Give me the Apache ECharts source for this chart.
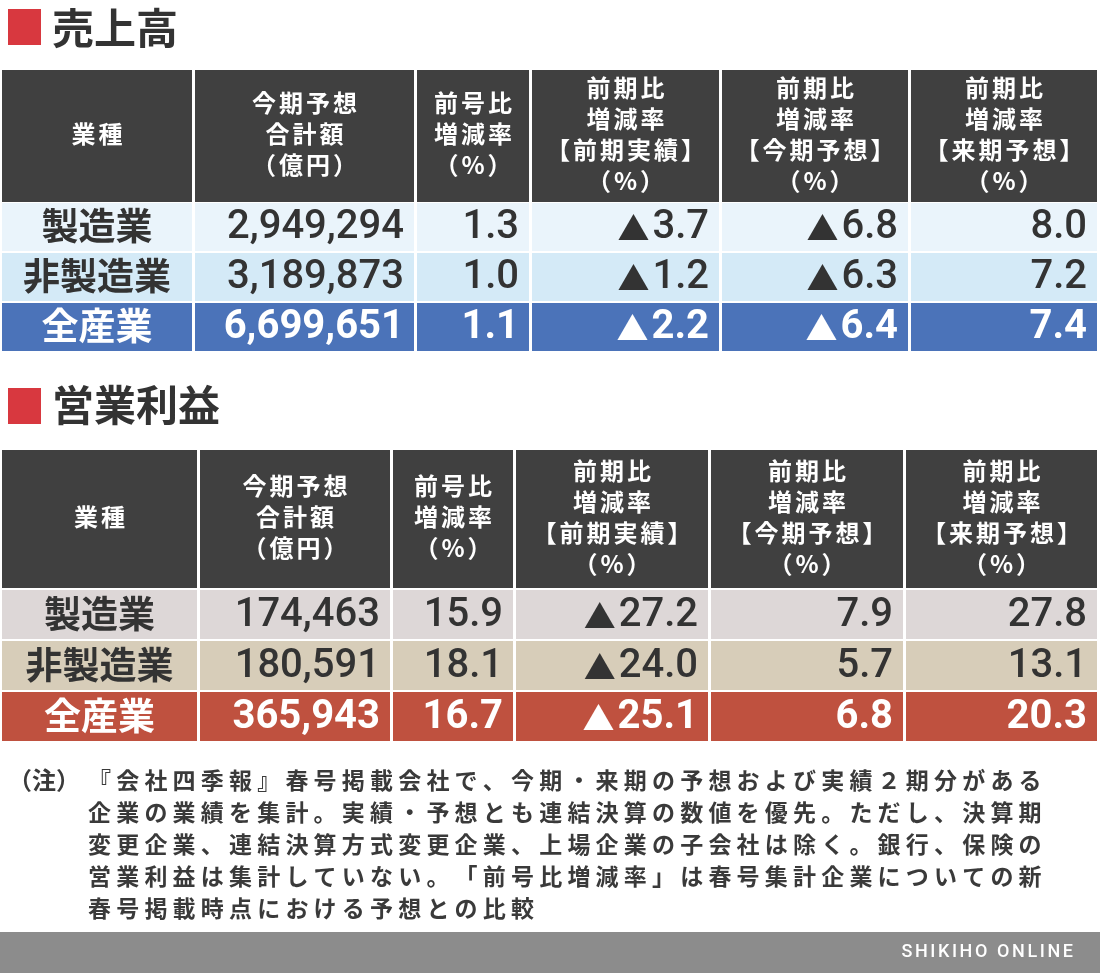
<!DOCTYPE html>
<html>
<head>
<meta charset="utf-8">
<script src="https://cdn.jsdelivr.net/npm/echarts@6/dist/echarts.min.js"></script>
<style>
html,body{margin:0;padding:0;background:#fff;}
#container{width:1100px;height:973px;}
</style>
</head>
<body>
<div id="container"></div>
<script>
// 業種
var sectors = ['製造業', '非製造業', '全産業'];
// 売上高
var salesTotal = [2949294, 3189873, 6699651];
var salesVsPrevIssue = [1.3, 1.0, 1.1];
var salesPrevActual = [-3.7, -1.2, -2.2];
var salesCurForecast = [-6.8, -6.3, -6.4];
var salesNextForecast = [8.0, 7.2, 7.4];
// 営業利益
var profitTotal = [174463, 180591, 365943];
var profitVsPrevIssue = [15.9, 18.1, 16.7];
var profitPrevActual = [-27.2, -24.0, -25.1];
var profitCurForecast = [7.9, 5.7, 6.8];
var profitNextForecast = [27.8, 13.1, 20.3];
// 見出し
var headers = [
	['業種'],
	['今期予想', '合計額', '（億円）'],
	['前号比', '増減率', '（%）'],
	['前期比', '増減率', '【前期実績】', '（%）'],
	['前期比', '増減率', '【今期予想】', '（%）'],
	['前期比', '増減率', '【来期予想】', '（%）']
];
var notes = [
	'『会社四季報』春号掲載会社で、今期・来期の予想および実績２期分がある',
	'企業の業績を集計。実績・予想とも連結決算の数値を優先。ただし、決算期',
	'変更企業、連結決算方式変更企業、上場企業の子会社は除く。銀行、保険の',
	'営業利益は集計していない。「前号比増減率」は春号集計企業についての新',
	'春号掲載時点における予想との比較'
];

function fmtRate(v){
	return v < 0 ? '{t|▲}' + Math.abs(v).toFixed(1) : v.toFixed(1);
}
function buildCells(totals, c1, c2, c3, c4){
	return sectors.map(function(s, i){
		return [s, totals[i].toLocaleString('en-US'), fmtRate(c1[i]), fmtRate(c2[i]), fmtRate(c3[i]), fmtRate(c4[i])];
	});
}
var salesCells = buildCells(salesTotal, salesVsPrevIssue, salesPrevActual, salesCurForecast, salesNextForecast);
var profitCells = buildCells(profitTotal, profitVsPrevIssue, profitPrevActual, profitCurForecast, profitNextForecast);

// レイアウト
var tables = [
	{
		title: '売上高', titleY: 28, sqY: 9,
		headTop: 70, headBottom: 202, bodyTop: 202, bandH: 50,
		cols: [[2,192],[195,414],[417,529],[532,719],[722,908],[911,1097]],
		rowColors: ['#eaf4fb', '#d4eaf7', '#4b73b9'],
		cells: salesCells
	},
	{
		title: '営業利益', titleY: 405, sqY: 388,
		headTop: 450, headBottom: 588, bodyTop: 589, bandH: 51,
		cols: [[2,197],[200,390],[393,513],[516,708],[711,903],[906,1097]],
		rowColors: ['#ddd7d7', '#d7cdb9', '#bf513f'],
		cells: profitCells
	}
];

var CJK = '"Noto Sans CJK JP", sans-serif';
var NUM = 'Roboto, "Noto Sans CJK JP", sans-serif';
var measureCtx = document.createElement('canvas').getContext('2d');

// 文字ごとに間隔をあけて並べる
function spacedText(str, cx, y, size, gap, weight, color, align, family){
	family = family || CJK;
	var font = weight + ' ' + size + 'px ' + family;
	measureCtx.font = font;
	var w = [];
	var total = 0;
	for (var i = 0; i < str.length; i++) {
		var a = (str.charCodeAt(i) < 128 ? measureCtx.measureText(str[i]).width : size) + gap;
		w.push(a); total += a;
	}
	total -= gap;
	var x = align === 'left' ? cx : align === 'right' ? cx - total : cx - total / 2;
	var out = [];
	for (var j = 0; j < str.length; j++) {
		out.push({
			type: 'text', x: x + (w[j] - gap) / 2, y: y, silent: true,
			style: {text: str[j], fill: color, font: font,
				textAlign: 'center', textVerticalAlign: 'middle'}
		});
		x += w[j];
	}
	return out;
}

var graphics = [];
tables.forEach(function(t){
	graphics.push({type: 'rect', shape: {x: 8, y: t.sqY, width: 33, height: 36}, style: {fill: '#d8383f'}});
	graphics.push({type: 'text', x: 52, y: t.titleY, style: {text: t.title, fill: '#333',
		font: 'bold 42px ' + CJK, textAlign: 'left', textVerticalAlign: 'middle'}});
	var mid = (t.headTop + t.headBottom) / 2 - 2;
	t.cols.forEach(function(c, ci){
		graphics.push({type: 'rect', shape: {x: c[0], y: t.headTop, width: c[1] - c[0], height: t.headBottom - t.headTop},
			style: {fill: '#404040'}});
		var lines = headers[ci];
		var lh = 31;
		lines.forEach(function(l, li){
			var y = mid + (li - (lines.length - 1) / 2) * lh;
			graphics = graphics.concat(spacedText(l, (c[0] + c[1]) / 2, y, 24, 3, 'bold', '#fff'));
		});
	});
});

// 注記
graphics = graphics.concat(spacedText('（注）', 8, 780, 24, 0, 'bold', '#3a3a3a', 'left'));
notes.forEach(function(l, i){
	graphics = graphics.concat(spacedText(l, 88, 780 + i * 32, 23, 5.2, 'bold', '#3a3a3a', 'left'));
});
// フッター
graphics.push({type: 'rect', shape: {x: 0, y: 932, width: 1100, height: 41}, style: {fill: '#8c8c8c'}});
graphics = graphics.concat(spacedText('SHIKIHO ONLINE', 1073, 952, 18, 2.6, '500', '#fff', 'right', 'Roboto, sans-serif'));

var grids = [], xAxes = [], yAxes = [], series = [];
tables.forEach(function(t, ti){
	grids.push({left: 0, top: t.bodyTop, width: 1100, height: t.bandH * sectors.length});
	xAxes.push({type: 'value', gridIndex: ti, min: 0, max: 1100, show: false});
	yAxes.push({type: 'category', gridIndex: ti, data: sectors, inverse: true, show: false});
	var data = [];
	sectors.forEach(function(s, r){
		t.cols.forEach(function(c, ci){ data.push([ci, r]); });
	});
	series.push({
		type: 'custom',
		xAxisIndex: ti, yAxisIndex: ti,
		silent: true,
		data: data,
		renderItem: function(params, api){
			var ci = api.value(0), r = api.value(1);
			var col = t.cols[ci];
			var p0 = api.coord([col[0], r]);
			var p1 = api.coord([col[1], r]);
			var band = api.size([0, 1])[1];
			var top = p0[1] - band / 2;
			var isTotal = r === sectors.length - 1;
			var color = isTotal ? '#fff' : '#333';
			var text = t.cells[r][ci];
			var txt;
			if (ci === 0) {
				txt = {type: 'text', style: {text: text, x: (p0[0] + p1[0]) / 2, y: top + band / 2 - 1,
					fill: color, fontSize: 37, fontWeight: 'bold', fontFamily: CJK,
					textAlign: 'center', textVerticalAlign: 'middle'}};
			} else {
				txt = {type: 'text', style: {text: text, x: p1[0] - 10, y: top + band / 2 + 1,
					fill: color, fontSize: 40, fontWeight: isTotal ? 'bold' : '500', fontFamily: NUM,
					textAlign: 'right', textVerticalAlign: 'middle',
					rich: {t: {fontSize: 32, fontFamily: CJK, fill: color, padding: [0, 3, 0, 0]}}}};
			}
			return {type: 'group', children: [
				{type: 'rect', shape: {x: p0[0], y: top + 1, width: p1[0] - p0[0], height: band - 2},
					style: {fill: t.rowColors[r]}},
				txt
			]};
		}
	});
});

var dom = document.getElementById('container');
var myChart = echarts.init(dom, null, {renderer: 'canvas'});
var option = {
	backgroundColor: '#fff',
	animation: false,
	grid: grids,
	xAxis: xAxes,
	yAxis: yAxes,
	series: series,
	graphic: graphics
};
myChart.setOption(option, true);
</script>
</body>
</html>
